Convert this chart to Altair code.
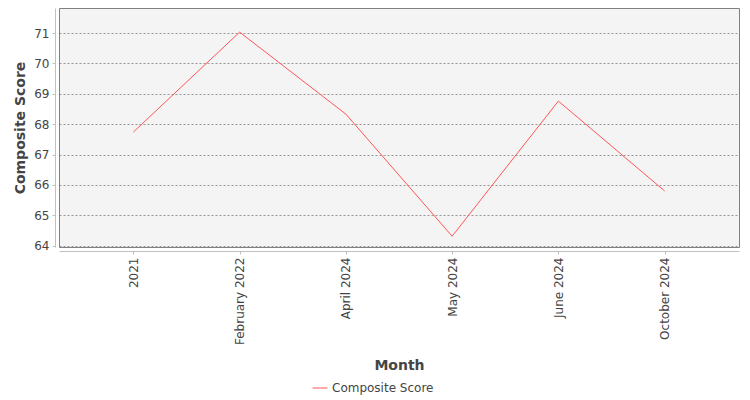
import altair as alt
import pandas as pd

months = ["2021", "February 2022", "April 2024", "May 2024", "June 2024", "October 2024"]
scores = [67.74, 71.03, 68.33, 64.31, 68.76, 65.80]
series = "Composite Score"
y_ticks = [64, 65, 66, 67, 68, 69, 70, 71]

df = pd.DataFrame({"Month": months, "Score": scores, "Series": [series] * len(months)})

font = "DejaVu Sans"
text_color = "#444444"

chart = (
    alt.Chart(df)
    .mark_line(strokeWidth=1)
    .encode(
        x=alt.X(
            "Month:N",
            sort=months,
            scale=alt.Scale(type="point", padding=0.7),
            axis=alt.Axis(
                title="Month",
                labelAngle=-90,
                labelPadding=3,
                titlePadding=14,
                grid=False,
                offset=4,
            ),
        ),
        y=alt.Y(
            "Score:Q",
            scale=alt.Scale(domain=[63.955, 71.825], nice=False, zero=False),
            axis=alt.Axis(
                title="Composite Score",
                values=y_ticks,
                format="d",
                labelPadding=3,
                titlePadding=6,
                offset=4,
                grid=True,
                gridColor="#808080",
                gridDash=[2, 2],
                gridWidth=0.8,
            ),
        ),
        color=alt.Color(
            "Series:N",
            scale=alt.Scale(domain=[series], range=["#ff5555"]),
            legend=alt.Legend(
                title=None,
                orient="none",
                legendX=253,
                legendY=372,
                symbolType="stroke",
                symbolSize=225,
                symbolStrokeWidth=1,
                labelFontSize=12,
                labelFont=font,
                labelColor=text_color,
                padding=0,
                labelOffset=4,
            ),
        ),
    )
    .properties(
        width=680,
        height=239,
        autosize=alt.AutoSizeParams(type="none"),
        padding={"left": 51, "top": 0, "right": 3, "bottom": 150},
    )
    .configure_view(fill="#f4f4f4", stroke="#808080", strokeWidth=1)
    .configure_axis(
        labelFont=font,
        labelFontSize=12,
        labelColor=text_color,
        titleFont=font,
        titleFontSize=14,
        titleFontWeight="bold",
        titleColor=text_color,
        domainColor="#c0c0c0",
        tickColor="#c0c0c0",
        tickSize=3,
    )
)

chart.save("out.html", embed_options={"renderer": "svg", "actions": False})
